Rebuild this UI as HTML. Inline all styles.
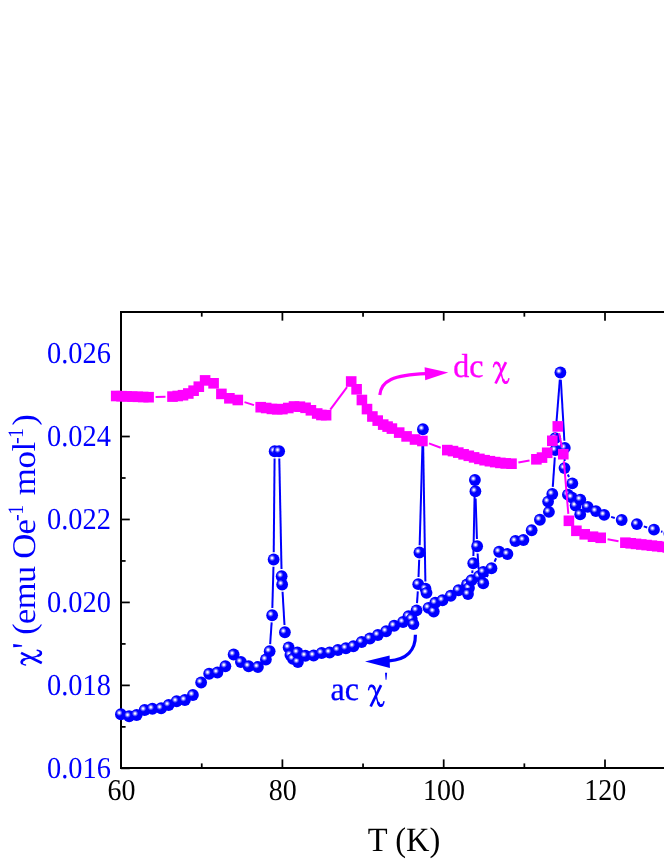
<!DOCTYPE html>
<html><head><meta charset="utf-8"><title>chart</title>
<style>html,body{margin:0;padding:0;background:#fff}body{width:664px;height:860px;position:relative;overflow:hidden;font-family:"Liberation Serif",serif}</style>
</head><body>
<svg width="664" height="860" viewBox="0 0 664 860" style="position:absolute;left:0;top:0;will-change:transform">
<defs><radialGradient id="b" cx="0.365" cy="0.375" r="0.27"><stop offset="0" stop-color="#ffffff"/><stop offset="0.22" stop-color="#f0f0ff"/><stop offset="0.6" stop-color="#6a6aff"/><stop offset="1" stop-color="#0000ff"/></radialGradient></defs>
<g stroke="#000" stroke-width="2" fill="none">
<path d="M121.0 769.0 V312.05 H669"/><path d="M120.0 768.0 H669"/></g>
<g stroke="#000" stroke-width="1.75" fill="none">
<path d="M121.0 768.35 h8.8"/>
<path d="M121.0 726.87 h4.6"/>
<path d="M121.0 685.39 h8.8"/>
<path d="M121.0 643.91 h4.6"/>
<path d="M121.0 602.43 h8.8"/>
<path d="M121.0 560.95 h4.6"/>
<path d="M121.0 519.47 h8.8"/>
<path d="M121.0 477.99 h4.6"/>
<path d="M121.0 436.51 h8.8"/>
<path d="M121.0 395.03 h4.6"/>
<path d="M201.75 768.0 v-4.6"/><path d="M201.75 312.05 v4.6"/>
<path d="M282.40 768.0 v-8.6"/><path d="M282.40 312.05 v8.6"/>
<path d="M363.05 768.0 v-4.6"/><path d="M363.05 312.05 v4.6"/>
<path d="M443.70 768.0 v-8.6"/><path d="M443.70 312.05 v8.6"/>
<path d="M524.35 768.0 v-4.6"/><path d="M524.35 312.05 v4.6"/>
<path d="M605.00 768.0 v-8.6"/><path d="M605.00 312.05 v8.6"/>
</g>
<g stroke="#0000ff" stroke-width="2" fill="none"><line x1="270.15" y1="644.07" x2="271.65" y2="622.43"/><line x1="272.34" y1="608.05" x2="273.46" y2="566.70"/><line x1="273.72" y1="552.30" x2="274.58" y2="458.45"/><line x1="279.29" y1="458.45" x2="281.51" y2="569.05"/><line x1="282.56" y1="591.69" x2="284.49" y2="625.06"/><line x1="417.02" y1="603.12" x2="417.78" y2="591.38"/><line x1="418.52" y1="577.01" x2="419.18" y2="559.69"/><line x1="419.65" y1="545.30" x2="422.70" y2="436.45"/><line x1="423.02" y1="436.45" x2="425.38" y2="581.55"/><line x1="472.24" y1="573.09" x2="472.51" y2="570.41"/><line x1="473.39" y1="556.05" x2="474.76" y2="487.20"/><line x1="475.63" y1="498.45" x2="476.92" y2="539.05"/><line x1="477.59" y1="553.44" x2="478.56" y2="569.06"/><line x1="486.72" y1="576.94" x2="488.03" y2="574.56"/><line x1="494.53" y1="561.72" x2="496.12" y2="558.28"/><line x1="552.79" y1="486.82" x2="554.81" y2="457.38"/><line x1="555.77" y1="431.02" x2="559.83" y2="379.68"/><line x1="560.82" y1="379.69" x2="564.38" y2="440.71"/><line x1="564.69" y1="455.10" x2="564.61" y2="460.90"/><line x1="567.77" y1="474.51" x2="569.03" y2="476.99"/><line x1="611.11" y1="516.91" x2="614.79" y2="517.99"/><line x1="643.74" y1="526.34" x2="647.16" y2="527.46"/><line x1="660.98" y1="531.47" x2="662.42" y2="531.83"/></g>
<g fill="url(#b)"><circle cx="120.9" cy="714.25" r="5.9"/><circle cx="129.15" cy="716.25" r="5.9"/><circle cx="136.65" cy="715" r="5.9"/><circle cx="144.65" cy="710" r="5.9"/><circle cx="152.4" cy="708.75" r="5.9"/><circle cx="161.15" cy="708.25" r="5.9"/><circle cx="168.65" cy="705" r="5.9"/><circle cx="176.65" cy="701.25" r="5.9"/><circle cx="184.9" cy="700" r="5.9"/><circle cx="192.9" cy="695" r="5.9"/><circle cx="201.15" cy="682.5" r="5.9"/><circle cx="209.15" cy="673.75" r="5.9"/><circle cx="217.4" cy="672.5" r="5.9"/><circle cx="225.4" cy="666.25" r="5.9"/><circle cx="233.65" cy="654.5" r="5.9"/><circle cx="240.9" cy="662" r="5.9"/><circle cx="248.65" cy="666.25" r="5.9"/><circle cx="257.9" cy="667" r="5.9"/><circle cx="265.9" cy="659.5" r="5.9"/><circle cx="269.65" cy="651.25" r="5.9"/><circle cx="272.15" cy="615.25" r="5.9"/><circle cx="273.65" cy="559.5" r="5.9"/><circle cx="274.65" cy="451.25" r="5.9"/><circle cx="279.15" cy="451.25" r="5.9"/><circle cx="281.65" cy="576.25" r="5.9"/><circle cx="282.15" cy="584.5" r="5.9"/><circle cx="284.9" cy="632.25" r="5.9"/><circle cx="288.65" cy="647.5" r="5.9"/><circle cx="290.4" cy="655" r="5.9"/><circle cx="292.9" cy="658.75" r="5.9"/><circle cx="297.9" cy="662" r="5.9"/><circle cx="297.4" cy="652.5" r="5.9"/><circle cx="305.4" cy="655.75" r="5.9"/><circle cx="313.65" cy="655.5" r="5.9"/><circle cx="321.65" cy="653" r="5.9"/><circle cx="329.65" cy="652.5" r="5.9"/><circle cx="337.9" cy="650" r="5.9"/><circle cx="345.9" cy="648.25" r="5.9"/><circle cx="353.4" cy="646.25" r="5.9"/><circle cx="361.65" cy="642" r="5.9"/><circle cx="369.9" cy="638.5" r="5.9"/><circle cx="377.9" cy="635" r="5.9"/><circle cx="386.15" cy="631.25" r="5.9"/><circle cx="394.15" cy="625.75" r="5.9"/><circle cx="403.0" cy="622.0" r="5.9"/><circle cx="408.5" cy="616.25" r="5.9"/><circle cx="411.75" cy="618.8" r="5.9"/><circle cx="413.45" cy="624.05" r="5.9"/><circle cx="416.55" cy="610.3" r="5.9"/><circle cx="418.25" cy="584.2" r="5.9"/><circle cx="419.45" cy="552.5" r="5.9"/><circle cx="422.9" cy="429.25" r="5.9"/><circle cx="425.5" cy="588.75" r="5.9"/><circle cx="426.55" cy="592.8" r="5.9"/><circle cx="428.5" cy="607.8" r="5.9"/><circle cx="433.75" cy="611.5" r="5.9"/><circle cx="435.25" cy="602.75" r="5.9"/><circle cx="442.5" cy="600.25" r="5.9"/><circle cx="450.75" cy="595.75" r="5.9"/><circle cx="458.55" cy="590.25" r="5.9"/><circle cx="467.0" cy="584.5" r="5.9"/><circle cx="469.0" cy="588.0" r="5.9"/><circle cx="468" cy="594.0" r="5.9"/><circle cx="471.5" cy="580.25" r="5.9"/><circle cx="473.25" cy="563.25" r="5.9"/><circle cx="474.9" cy="480.0" r="5.9"/><circle cx="475.4" cy="491.25" r="5.9"/><circle cx="477.15" cy="546.25" r="5.9"/><circle cx="479.0" cy="576.25" r="5.9"/><circle cx="483.25" cy="572.0" r="5.9"/><circle cx="483.25" cy="583.25" r="5.9"/><circle cx="491.5" cy="568.25" r="5.9"/><circle cx="499.15" cy="551.75" r="5.9"/><circle cx="507.4" cy="554.0" r="5.9"/><circle cx="515.4" cy="541.0" r="5.9"/><circle cx="523.4" cy="540.0" r="5.9"/><circle cx="531.65" cy="530.25" r="5.9"/><circle cx="539.9" cy="519.75" r="5.9"/><circle cx="548.9" cy="511.9" r="5.9"/><circle cx="548.1" cy="501.6" r="5.9"/><circle cx="552.3" cy="494.0" r="5.9"/><circle cx="555.3" cy="450.20000000000005" r="5.9"/><circle cx="555.1999999999999" cy="438.2" r="5.9"/><circle cx="560.4" cy="372.5" r="5.9"/><circle cx="564.8" cy="447.9" r="5.9"/><circle cx="564.5" cy="468.1" r="5.9"/><circle cx="572.3" cy="483.4" r="5.9"/><circle cx="567.9" cy="494.6" r="5.9"/><circle cx="571.6999999999999" cy="497.4" r="5.9"/><circle cx="575.6" cy="505.6" r="5.9"/><circle cx="580.3" cy="499.6" r="5.9"/><circle cx="580.1999999999999" cy="514.4" r="5.9"/><circle cx="587.6999999999999" cy="506.9" r="5.9"/><circle cx="595.9" cy="511.1" r="5.9"/><circle cx="604.1999999999999" cy="514.9" r="5.9"/><circle cx="621.6999999999999" cy="520" r="5.9"/><circle cx="636.9" cy="524.1" r="5.9"/><circle cx="654.0" cy="529.7" r="5.9"/><circle cx="669.4" cy="533.6" r="5.9"/></g>
<g stroke="#ff00ff" stroke-width="2" fill="none"><line x1="155.60" y1="397.02" x2="165.50" y2="396.78"/><line x1="244.48" y1="402.10" x2="254.02" y2="405.10"/><line x1="330.28" y1="409.59" x2="347.02" y2="387.11"/><line x1="428.97" y1="443.40" x2="440.73" y2="447.70"/><line x1="518.39" y1="462.48" x2="529.51" y2="460.52"/><line x1="554.80" y1="434.26" x2="555.30" y2="432.94"/><line x1="559.16" y1="433.27" x2="561.94" y2="447.33"/><line x1="563.89" y1="461.18" x2="568.31" y2="513.82"/><line x1="607.57" y1="539.16" x2="618.53" y2="541.34"/></g>
<g fill="#ff00ff"><rect x="110.90" y="390.70" width="10.6" height="10.6"/><rect x="116.30" y="390.90" width="10.6" height="10.6"/><rect x="121.70" y="391.10" width="10.6" height="10.6"/><rect x="127.10" y="391.30" width="10.6" height="10.6"/><rect x="132.50" y="391.50" width="10.6" height="10.6"/><rect x="137.90" y="391.70" width="10.6" height="10.6"/><rect x="143.30" y="391.90" width="10.6" height="10.6"/><rect x="167.20" y="391.30" width="10.6" height="10.6"/><rect x="172.40" y="390.70" width="10.6" height="10.6"/><rect x="177.70" y="389.90" width="10.6" height="10.6"/><rect x="183.00" y="388.20" width="10.6" height="10.6"/><rect x="188.30" y="385.40" width="10.6" height="10.6"/><rect x="193.50" y="381.40" width="10.6" height="10.6"/><rect x="199.80" y="375.10" width="10.6" height="10.6"/><rect x="208.30" y="378.00" width="10.6" height="10.6"/><rect x="216.10" y="388.60" width="10.6" height="10.6"/><rect x="224.10" y="393.00" width="10.6" height="10.6"/><rect x="232.50" y="394.70" width="10.6" height="10.6"/><rect x="255.40" y="401.90" width="10.6" height="10.6"/><rect x="260.90" y="402.70" width="10.6" height="10.6"/><rect x="266.60" y="403.60" width="10.6" height="10.6"/><rect x="271.90" y="404.00" width="10.6" height="10.6"/><rect x="277.10" y="403.80" width="10.6" height="10.6"/><rect x="283.00" y="402.70" width="10.6" height="10.6"/><rect x="288.70" y="401.20" width="10.6" height="10.6"/><rect x="294.60" y="401.40" width="10.6" height="10.6"/><rect x="300.30" y="402.50" width="10.6" height="10.6"/><rect x="305.60" y="405.00" width="10.6" height="10.6"/><rect x="311.90" y="408.20" width="10.6" height="10.6"/><rect x="316.10" y="409.70" width="10.6" height="10.6"/><rect x="320.80" y="409.90" width="10.6" height="10.6"/><rect x="345.90" y="376.20" width="10.6" height="10.6"/><rect x="351.30" y="384.00" width="10.6" height="10.6"/><rect x="356.60" y="394.70" width="10.6" height="10.6"/><rect x="361.70" y="403.80" width="10.6" height="10.6"/><rect x="367.10" y="411.20" width="10.6" height="10.6"/><rect x="372.40" y="415.30" width="10.6" height="10.6"/><rect x="377.90" y="419.30" width="10.6" height="10.6"/><rect x="382.30" y="421.30" width="10.6" height="10.6"/><rect x="386.60" y="423.30" width="10.6" height="10.6"/><rect x="393.90" y="427.30" width="10.6" height="10.6"/><rect x="401.30" y="431.10" width="10.6" height="10.6"/><rect x="409.70" y="434.20" width="10.6" height="10.6"/><rect x="417.10" y="435.70" width="10.6" height="10.6"/><rect x="442.00" y="444.80" width="10.6" height="10.6"/><rect x="447.70" y="445.80" width="10.6" height="10.6"/><rect x="453.00" y="447.30" width="10.6" height="10.6"/><rect x="458.30" y="449.00" width="10.6" height="10.6"/><rect x="463.50" y="450.50" width="10.6" height="10.6"/><rect x="468.80" y="452.10" width="10.6" height="10.6"/><rect x="474.10" y="453.60" width="10.6" height="10.6"/><rect x="479.30" y="454.90" width="10.6" height="10.6"/><rect x="484.60" y="455.90" width="10.6" height="10.6"/><rect x="489.90" y="456.80" width="10.6" height="10.6"/><rect x="495.10" y="457.60" width="10.6" height="10.6"/><rect x="500.40" y="458.10" width="10.6" height="10.6"/><rect x="506.20" y="458.40" width="10.6" height="10.6"/><rect x="531.10" y="454.00" width="10.6" height="10.6"/><rect x="536.70" y="452.30" width="10.6" height="10.6"/><rect x="541.90" y="447.50" width="10.6" height="10.6"/><rect x="547.00" y="435.50" width="10.6" height="10.6"/><rect x="552.50" y="421.10" width="10.6" height="10.6"/><rect x="558.00" y="448.90" width="10.6" height="10.6"/><rect x="563.60" y="515.50" width="10.6" height="10.6"/><rect x="571.10" y="525.50" width="10.6" height="10.6"/><rect x="579.40" y="529.00" width="10.6" height="10.6"/><rect x="587.70" y="531.40" width="10.6" height="10.6"/><rect x="595.40" y="532.50" width="10.6" height="10.6"/><rect x="620.10" y="537.40" width="10.6" height="10.6"/><rect x="625.40" y="537.99" width="10.6" height="10.6"/><rect x="630.70" y="538.58" width="10.6" height="10.6"/><rect x="636.00" y="539.17" width="10.6" height="10.6"/><rect x="641.30" y="539.76" width="10.6" height="10.6"/><rect x="646.60" y="540.35" width="10.6" height="10.6"/><rect x="651.90" y="540.94" width="10.6" height="10.6"/><rect x="657.20" y="541.53" width="10.6" height="10.6"/><rect x="662.50" y="542.12" width="10.6" height="10.6"/></g>
<path d="M379.8 395 C381 381,393 374.8,426 373.6" stroke="#ff00ff" stroke-width="3.2" fill="none"/>
<path d="M448.3 372.6 L424.6 367.2 L425.2 380.2 Z" fill="#ff00ff"/>
<path d="M415.4 634.8 C415.6 650,407 659.6,389 660.8" stroke="#0000ff" stroke-width="3.2" fill="none"/>
<path d="M365 661.5 L389.6 655.4 L389.9 667.9 Z" fill="#0000ff"/>
<text transform="translate(110.90 777.90) scale(1 1.07)" font-family="Liberation Serif, serif" text-rendering="geometricPrecision" font-size="28.4" fill="#0000ff" text-anchor="end">0.016</text>
<text transform="translate(110.90 694.94) scale(1 1.07)" font-family="Liberation Serif, serif" text-rendering="geometricPrecision" font-size="28.4" fill="#0000ff" text-anchor="end">0.018</text>
<text transform="translate(110.90 611.98) scale(1 1.07)" font-family="Liberation Serif, serif" text-rendering="geometricPrecision" font-size="28.4" fill="#0000ff" text-anchor="end">0.020</text>
<text transform="translate(110.90 529.02) scale(1 1.07)" font-family="Liberation Serif, serif" text-rendering="geometricPrecision" font-size="28.4" fill="#0000ff" text-anchor="end">0.022</text>
<text transform="translate(110.90 446.06) scale(1 1.07)" font-family="Liberation Serif, serif" text-rendering="geometricPrecision" font-size="28.4" fill="#0000ff" text-anchor="end">0.024</text>
<text transform="translate(110.90 363.10) scale(1 1.07)" font-family="Liberation Serif, serif" text-rendering="geometricPrecision" font-size="28.4" fill="#0000ff" text-anchor="end">0.026</text>
<text transform="translate(121.40 800.30) scale(1 1.08)" font-family="Liberation Serif, serif" text-rendering="geometricPrecision" font-size="28.0" fill="#000" text-anchor="middle">60</text>
<text transform="translate(282.70 800.30) scale(1 1.08)" font-family="Liberation Serif, serif" text-rendering="geometricPrecision" font-size="28.0" fill="#000" text-anchor="middle">80</text>
<text transform="translate(444.00 800.30) scale(1 1.08)" font-family="Liberation Serif, serif" text-rendering="geometricPrecision" font-size="28.0" fill="#000" text-anchor="middle">100</text>
<text transform="translate(605.30 800.30) scale(1 1.08)" font-family="Liberation Serif, serif" text-rendering="geometricPrecision" font-size="28.0" fill="#000" text-anchor="middle">120</text>
<text transform="translate(404.00 850.70) scale(1 1.05)" font-family="Liberation Serif, serif" text-rendering="geometricPrecision" font-size="32.5" fill="#000" text-anchor="middle">T (K)</text>
<text stroke="#ff00ff" stroke-width="0.35" transform="translate(453.20 376.90) scale(1 1.04)" font-family="Liberation Serif, serif" text-rendering="geometricPrecision" font-size="32" fill="#ff00ff" text-anchor="start">dc</text>
<g transform="translate(492.9 376.9)" fill="none" stroke="#ff00ff" stroke-linecap="round"><path d="M13.05 -14.8 L2.65 6.6" stroke-width="2.7" stroke-linecap="butt"/><path d="M0.6 -10.2 C0.8 -13.6,3.4 -15.1,5.1 -14.1 C6.8 -12.9,7.2 -9.4,8.0 -5.5 C8.9 -0.7,9.6 4.1,12.1 5.8 C14 6.9,15.6 4.1,15.9 1.8" stroke-width="1.5"/><path d="M2.6 -13.9 C4.2 -14.6,5.6 -13.6,6.3 -11.6" stroke-width="2.7"/><path d="M10.4 3.2 C11 5.2,12.4 6.3,13.9 5.3" stroke-width="2.7"/></g>
<text stroke="#0000ff" stroke-width="0.3" transform="translate(330.60 699.70) scale(1 1.04)" font-family="Liberation Serif, serif" text-rendering="geometricPrecision" font-size="32" fill="#0000ff" text-anchor="start">ac</text>
<g transform="translate(368.0 699.9)" fill="none" stroke="#0000ff" stroke-linecap="round"><path d="M13.05 -14.8 L2.65 6.6" stroke-width="2.7" stroke-linecap="butt"/><path d="M0.6 -10.2 C0.8 -13.6,3.4 -15.1,5.1 -14.1 C6.8 -12.9,7.2 -9.4,8.0 -5.5 C8.9 -0.7,9.6 4.1,12.1 5.8 C14 6.9,15.6 4.1,15.9 1.8" stroke-width="1.5"/><path d="M2.6 -13.9 C4.2 -14.6,5.6 -13.6,6.3 -11.6" stroke-width="2.7"/><path d="M10.4 3.2 C11 5.2,12.4 6.3,13.9 5.3" stroke-width="2.7"/></g>
<path d="M385.0 672.8 h2.1 l-0.6 7 h-0.9 Z" fill="#0000ff"/>
<g transform="translate(35.4 665.6) rotate(-90) scale(0.97)" fill="none" stroke="#0000ff" stroke-linecap="round"><path d="M13.05 -14.8 L2.65 6.6" stroke-width="2.7" stroke-linecap="butt"/><path d="M0.6 -10.2 C0.8 -13.6,3.4 -15.1,5.1 -14.1 C6.8 -12.9,7.2 -9.4,8.0 -5.5 C8.9 -0.7,9.6 4.1,12.1 5.8 C14 6.9,15.6 4.1,15.9 1.8" stroke-width="1.5"/><path d="M2.6 -13.9 C4.2 -14.6,5.6 -13.6,6.3 -11.6" stroke-width="2.7"/><path d="M10.4 3.2 C11 5.2,12.4 6.3,13.9 5.3" stroke-width="2.7"/></g>
<path d="M13.2 647.3 v-3.3 l8.9 1.3 v1.2 Z" fill="#0000ff"/>
<text transform="translate(35.4 634.8) rotate(-90) scale(1.04 1)" font-family="Liberation Serif, serif" text-rendering="geometricPrecision" font-size="33" fill="#0000ff" letter-spacing="-0.5">(emu</text>
<text transform="translate(35.4 558.8) rotate(-90) scale(1.06 1)" font-family="Liberation Serif, serif" text-rendering="geometricPrecision" font-size="33" fill="#0000ff" letter-spacing="-0.8">Oe</text>
<text transform="translate(22.599999999999998 520.9) rotate(-90) scale(0.9 1)" font-family="Liberation Serif, serif" text-rendering="geometricPrecision" font-size="22" fill="#0000ff" letter-spacing="-0.6">-1</text>
<text transform="translate(35.4 495.2) rotate(-90) scale(1.06 1)" font-family="Liberation Serif, serif" text-rendering="geometricPrecision" font-size="33" fill="#0000ff" letter-spacing="-0.5">mol</text>
<text transform="translate(22.599999999999998 444.0) rotate(-90) scale(0.9 1)" font-family="Liberation Serif, serif" text-rendering="geometricPrecision" font-size="22" fill="#0000ff" letter-spacing="-0.6">-1</text>
<text transform="translate(35.4 425.8) rotate(-90) scale(1.06 1)" font-family="Liberation Serif, serif" text-rendering="geometricPrecision" font-size="33" fill="#0000ff" letter-spacing="0">)</text>
</svg>
</body></html>
